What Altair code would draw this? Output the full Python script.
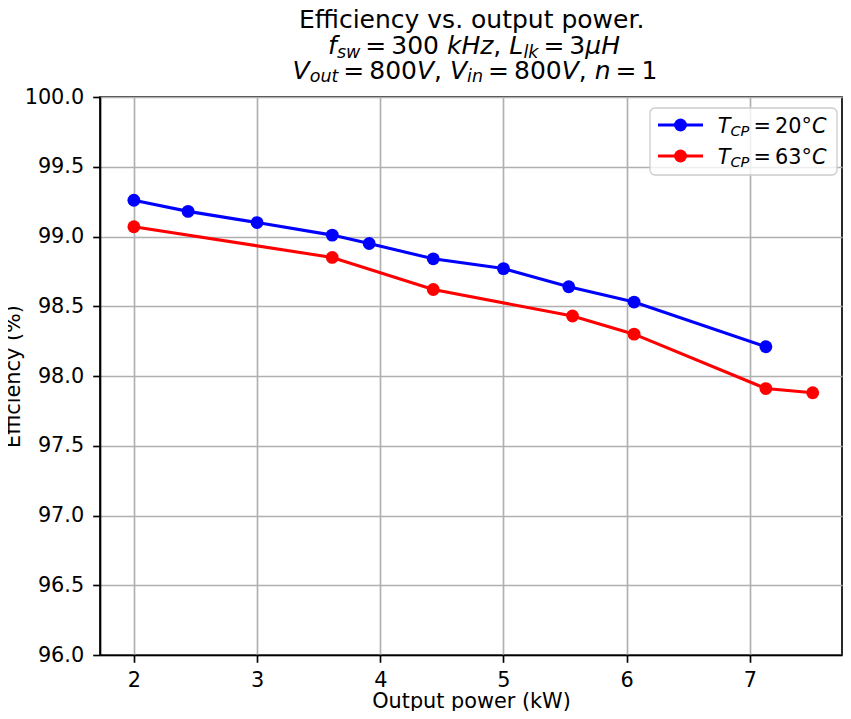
import altair as alt
import pandas as pd

# ---------------- data ----------------
power_20 = [2.0, 2.44, 3.0, 3.61, 3.91, 4.43, 5.0, 5.53, 6.06, 7.13]
eff_20 = [99.26, 99.18, 99.10, 99.01, 98.95, 98.84, 98.77, 98.64, 98.53, 98.21]
power_63 = [2.0, 3.61, 4.43, 5.56, 6.06, 7.13, 7.51]
eff_63 = [99.07, 98.85, 98.62, 98.43, 98.30, 97.91, 97.88]
series_names = ["T_CP = 20°C", "T_CP = 63°C"]
series_colors = ["#0000ff", "#ff0000"]
x_ticks = [2, 3, 4, 5, 6, 7]
y_ticks = [96.0, 96.5, 97.0, 97.5, 98.0, 98.5, 99.0, 99.5, 100.0]
title_line1 = "Efficiency vs. output power."
x_title = "Output power (kW)"
y_title = "Efficiency (%)"

df = pd.concat([
    pd.DataFrame({"power": power_20, "eff": eff_20, "series": series_names[0]}),
    pd.DataFrame({"power": power_63, "eff": eff_63, "series": series_names[1]}),
], ignore_index=True)

# ---------------- layout constants ----------------
PX_PER_KW = 123.2
X_MIN = 1.725
W, H = 742, 558
X_MAX = X_MIN + W / PX_PER_KW
FONT = "DejaVu Sans"
LW = 3.1
MSIZE = 165
TFS = 25      # title font size
LFS = 20.8    # legend / axis font size

# DejaVu Sans advance widths (units of 2048 per em)
ADV = {' ': 651, '0': 1303, '1': 1303, '2': 1303, '3': 1303, '6': 1303, '8': 1303,
       '=': 1716, ',': 651, '.': 651, 'f': 721, 's': 1067, 'w': 1675, 'k': 1186,
       'H': 1540, 'z': 1071, 'L': 1165, 'l': 569, 'μ': 1300, 'V': 1401, 'o': 1253,
       'u': 1298, 't': 803, 'i': 569, 'n': 1298, 'T': 1251, 'C': 1430, 'P': 1235,
       '°': 1024, 'E': 1294, 'c': 1126, 'e': 1260, 'y': 1212, 'v': 1212, 'p': 1300,
       'r': 842}


def adv(s):
    return sum(ADV.get(c, 1250) for c in s) / 2048.0


def math_line(tokens, fs, base, cx=None, x0=None):
    items = []
    for text, kind in tokens:
        if kind == "sub":
            size = fs * 0.7
            w = adv(text) * size
            items.append((text, size, w, 0.0, fs * 0.14, True))
        elif kind == "rel":
            pad = 0.2 * fs
            items.append((text, fs, adv(text) * fs + 2 * pad, pad, 0.0, False))
        elif kind == "it":
            items.append((text, fs, adv(text) * fs, 0.0, 0.0, True))
        else:
            items.append((text, fs, adv(text) * fs, 0.0, 0.0, False))
    total = sum(i[2] for i in items)
    x = cx - total / 2 if cx is not None else x0
    rows = []
    for text, size, w, pad, dy, it in items:
        rows.append({"t": text, "x": x + pad, "y": base + dy, "size": size, "it": it})
        x += w
    return rows


CX = 373
seg = []
seg += math_line([(title_line1, "rm")], TFS, -68.7, cx=CX)
seg += math_line([("f", "it"), ("sw", "sub"), ("=", "rel"), ("300", "rm"), (" ", "rm"),
                  ("kHz", "it"), (", ", "rm"), ("L", "it"), ("lk", "sub"), ("=", "rel"),
                  ("3", "rm"), ("μH", "it")], TFS, -42.8, cx=CX + 1)
seg += math_line([("V", "it"), ("out", "sub"), ("=", "rel"), ("800", "rm"), ("V", "it"),
                  (", ", "rm"), ("V", "it"), ("in", "sub"), ("=", "rel"), ("800", "rm"),
                  ("V", "it"), (", ", "rm"), ("n", "it"), ("=", "rel"), ("1", "rm")],
                 TFS, -18.5, cx=CX + 2)

# legend geometry (plot-area pixel coordinates)
LEG_X0, LEG_X1, LEG_Y0, LEG_Y1 = 550, 737, 11, 78
ROWS = [28, 59]
LINE_X0, LINE_X1, MARK_X, TEXT_X = 558, 603, 580.5, 617.7
for temp, ry in zip(["20", "63"], ROWS):
    seg += math_line([("T", "it"), ("CP", "sub"), ("=", "rel"), (temp, "rm"), ("°", "rm"),
                      ("C", "it")], LFS, ry + 7.6, x0=TEXT_X)

seg_df = pd.DataFrame(seg)

# ---------------- data layer ----------------
base = alt.Chart(df).encode(
    x=alt.X("power:Q",
            scale=alt.Scale(domain=[X_MIN, X_MAX], nice=False, zero=False),
            axis=alt.Axis(values=x_ticks, title=x_title, titleY=52,
                          titleBaseline="alphabetic", labelFlush=False,
                          labelPadding=8.5)),
    y=alt.Y("eff:Q",
            scale=alt.Scale(domain=[96, 100], nice=False, zero=False),
            axis=alt.Axis(values=y_ticks, format=".1f", title=y_title,
                          titleX=-81, titleY=H / 2, titleAngle=270,
                          titleBaseline="alphabetic", titleAlign="center",
                          labelFlush=False, labelPadding=9)),
    color=alt.Color("series:N",
                    scale=alt.Scale(domain=series_names, range=series_colors),
                    legend=None),
)
lines = base.mark_line(strokeWidth=LW)
points = base.mark_point(filled=True, size=MSIZE, opacity=1)
data_layer = alt.layer(lines, points)

one = pd.DataFrame({"k": [0]})
legend_box = alt.Chart(one).mark_rect(
    fill="white", fillOpacity=0.8, stroke="#cccccc", strokeWidth=1.3, cornerRadius=5
).encode(x=alt.value(LEG_X0), x2=alt.value(LEG_X1), y=alt.value(LEG_Y0), y2=alt.value(LEG_Y1))

legend_items = []
for col, ry in zip(series_colors, ROWS):
    legend_items.append(alt.Chart(one).mark_rule(color=col, strokeWidth=LW).encode(
        x=alt.value(LINE_X0), x2=alt.value(LINE_X1), y=alt.value(ry)))
    legend_items.append(alt.Chart(one).mark_point(filled=True, size=MSIZE, opacity=1, color=col).encode(
        x=alt.value(MARK_X), y=alt.value(ry)))


def seg_chart(italic):
    sub = seg_df[seg_df["it"] == italic]
    kw = {"fontStyle": "italic"} if italic else {}
    return alt.Chart(sub).mark_text(align="left", baseline="alphabetic", font=FONT,
                                    color="black", **kw).encode(
        x=alt.X("x:Q", scale=None, axis=None),
        y=alt.Y("y:Q", scale=None, axis=None),
        text="t:N",
        size=alt.Size("size:Q", scale=None, legend=None),
    )


chart = alt.layer(
    data_layer, legend_box, *legend_items, seg_chart(False), seg_chart(True)
).resolve_scale(x="independent", y="independent").properties(
    width=W, height=H,
    autosize=alt.AutoSizeParams(type="none"),
    padding={"left": 92, "top": 89, "right": 1, "bottom": 56},
).configure_view(
    stroke="black", strokeWidth=1.67
).configure_axis(
    labelFont=FONT, labelFontSize=LFS, labelColor="black",
    titleFont=FONT, titleFontSize=LFS, titleFontWeight="normal", titleColor="black",
    domainColor="black", domainWidth=1.67,
    tickColor="black", tickWidth=1.67, tickSize=7.3,
    gridColor="#b0b0b0", gridWidth=1.67, gridOpacity=1,
)

chart.save("out.html", embed_options={"renderer": "svg", "actions": False})
